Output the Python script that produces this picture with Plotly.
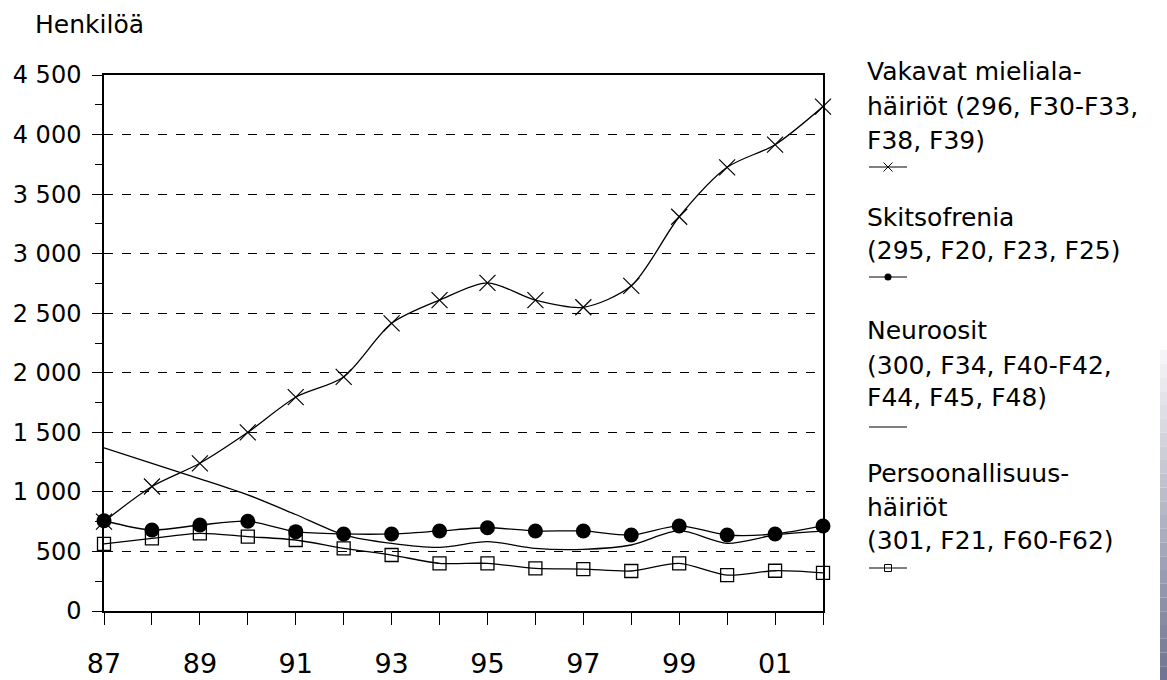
import plotly.graph_objects as go

# ---- data ----
years = list(range(1987, 2003))
x_tick_labels = ["87", "", "89", "", "91", "", "93", "", "95", "", "97", "", "99", "", "01", ""]
y_tick_vals = [0, 500, 1000, 1500, 2000, 2500, 3000, 3500, 4000, 4500]
y_tick_labels = ["0", "500", "1 000", "1 500", "2 000", "2 500", "3 000", "3 500", "4 000", "4 500"]

vakavat = [750, 1045, 1240, 1500, 1795, 1965, 2415, 2610, 2755, 2610, 2550, 2730, 3310, 3725, 3915, 4235]
skitsofrenia = [758, 680, 722, 753, 666, 647, 647, 672, 699, 672, 672, 638, 714, 638, 647, 714]
neuroosit = [1370, 1240, 1110, 975, 810, 640, 568, 535, 582, 526, 518, 554, 674, 568, 638, 670]
persoonallisuus = [563, 610, 652, 624, 596, 526, 470, 400, 400, 358, 352, 336, 400, 302, 338, 320]

y_title = "Henkilöä"
legend_texts = [
    ["Vakavat mieliala-", "häiriöt (296, F30-F33,", "F38, F39)"],
    ["Skitsofrenia", "(295, F20, F23, F25)"],
    ["Neuroosit", "(300, F34, F40-F42,", "F44, F45, F48)"],
    ["Persoonallisuus-", "häiriöt", "(301, F21, F60-F62)"],
]

# ---- layout constants (pixels, in page coordinates) ----
W, H = 1167, 680
plot_left, plot_right, plot_top, plot_bottom = 104, 823, 75, 611
L = plot_left
T = plot_top
B = H - plot_bottom
R = 0
pw = W - L - R
ph = H - T - B
FONT = "DejaVu Sans"

def px_x(p):
    return (p - plot_left) / pw

def px_y(p):
    return (plot_bottom - p) / ph

fig = go.Figure()

line_style = dict(color="black", width=1.3, shape="spline", smoothing=0.8)

fig.add_trace(go.Scatter(
    x=years, y=vakavat, mode="lines+markers", line=line_style, cliponaxis=False,
    marker=dict(symbol="x-thin", size=16, line=dict(color="black", width=1.2)),
    showlegend=False))
fig.add_trace(go.Scatter(
    x=years, y=neuroosit, mode="lines", line=line_style, cliponaxis=False,
    showlegend=False))
fig.add_trace(go.Scatter(
    x=years, y=persoonallisuus, mode="lines+markers", line=line_style, cliponaxis=False,
    marker=dict(symbol="square-open", size=13, color="black", line=dict(color="black", width=1.3)),
    showlegend=False))
fig.add_trace(go.Scatter(
    x=years, y=skitsofrenia, mode="lines+markers", line=line_style, cliponaxis=False,
    marker=dict(symbol="circle", size=15, color="black"),
    showlegend=False))

# ---- legend keys on an auxiliary axis ----
key_rows_px = [167, 277, 427, 568]
key_markers = [
    dict(symbol="x-thin", size=9, line=dict(color="black", width=1)),
    dict(symbol="circle", size=7, color="black"),
    None,
    dict(symbol="square-open", size=7, color="black", line=dict(color="black", width=1)),
]
for row, mk in zip(key_rows_px, key_markers):
    yy = plot_bottom - row
    fig.add_trace(go.Scatter(
        x=[0, 0.5, 1], y=[yy, yy, yy], xaxis="x2", yaxis="y2",
        mode="lines", line=dict(color="black", width=1), showlegend=False, hoverinfo="skip"))
    if mk is not None:
        fig.add_trace(go.Scatter(
            x=[0.5], y=[yy], xaxis="x2", yaxis="y2", mode="markers",
            marker=mk, showlegend=False, hoverinfo="skip"))

annotations = [dict(
    text=y_title, xref="paper", yref="paper", x=px_x(33), y=px_y(24),
    xanchor="left", yanchor="middle", showarrow=False,
    font=dict(family=FONT, size=25, color="black"))]

legend_line_px = [[72, 107, 140], [217, 250], [330, 365, 397], [473, 507, 540]]
for texts, rows in zip(legend_texts, legend_line_px):
    for t, r in zip(texts, rows):
        annotations.append(dict(
            text=t, xref="paper", yref="paper", x=px_x(865), y=px_y(r),
            xanchor="left", yanchor="middle", showarrow=False,
            font=dict(family=FONT, size=25, color="black")))

# ---- gradient strip at right edge ----
shapes = []
n = 24
top_px, bot_px = 350, 680
c0 = (245, 245, 248)
c1 = (112, 118, 145)
for i in range(n):
    f = i / (n - 1)
    c = tuple(int(c0[k] + (c1[k] - c0[k]) * f) for k in range(3))
    y0 = top_px + (bot_px - top_px) * i / n
    y1 = top_px + (bot_px - top_px) * (i + 1) / n
    shapes.append(dict(type="rect", xref="paper", yref="paper",
                       x0=px_x(1160), x1=px_x(1167), y0=px_y(y1), y1=px_y(y0),
                       line=dict(width=0), fillcolor="rgb(%d,%d,%d)" % c, layer="above"))

fig.update_layout(
    width=W, height=H,
    margin=dict(l=L, r=R, t=T, b=B, pad=0),
    paper_bgcolor="white", plot_bgcolor="white",
    font=dict(family=FONT, size=23, color="black"),
    showlegend=False,
    annotations=annotations,
    shapes=shapes,
    xaxis=dict(
        domain=[0, px_x(plot_right)], range=[1987, 2002],
        tickvals=years, ticktext=x_tick_labels,
        ticks="outside", ticklen=12, tickwidth=1.2, tickcolor="black",
        ticklabelstandoff=16,
        showline=True, linecolor="black", linewidth=1.5, mirror=True,
        showgrid=False, zeroline=False,
        tickfont=dict(family=FONT, size=27, color="black"),
    ),
    yaxis=dict(
        range=[0, 4500],
        tickvals=y_tick_vals, ticktext=y_tick_labels,
        ticks="outside", ticklen=10, tickwidth=1.2, tickcolor="black",
        ticklabelstandoff=6,
        minor=dict(dtick=250, tick0=0, ticks="outside", ticklen=7, tickcolor="black", showgrid=False),
        showline=True, linecolor="black", linewidth=1.5, mirror=True,
        showgrid=True, gridcolor="black", gridwidth=1, griddash="dash",
        zeroline=False,
        tickfont=dict(family=FONT, size=24, color="black"),
    ),
    xaxis2=dict(domain=[px_x(869), px_x(907)], range=[0, 1], visible=False, fixedrange=True),
    yaxis2=dict(domain=[0, 1], range=[0, ph], visible=False, fixedrange=True, anchor="x2"),
)

fig.write_html(
    "out.html",
    config={"displayModeBar": False},
    post_script="document.body.style.margin='0';document.body.style.overflow='hidden';",
)
